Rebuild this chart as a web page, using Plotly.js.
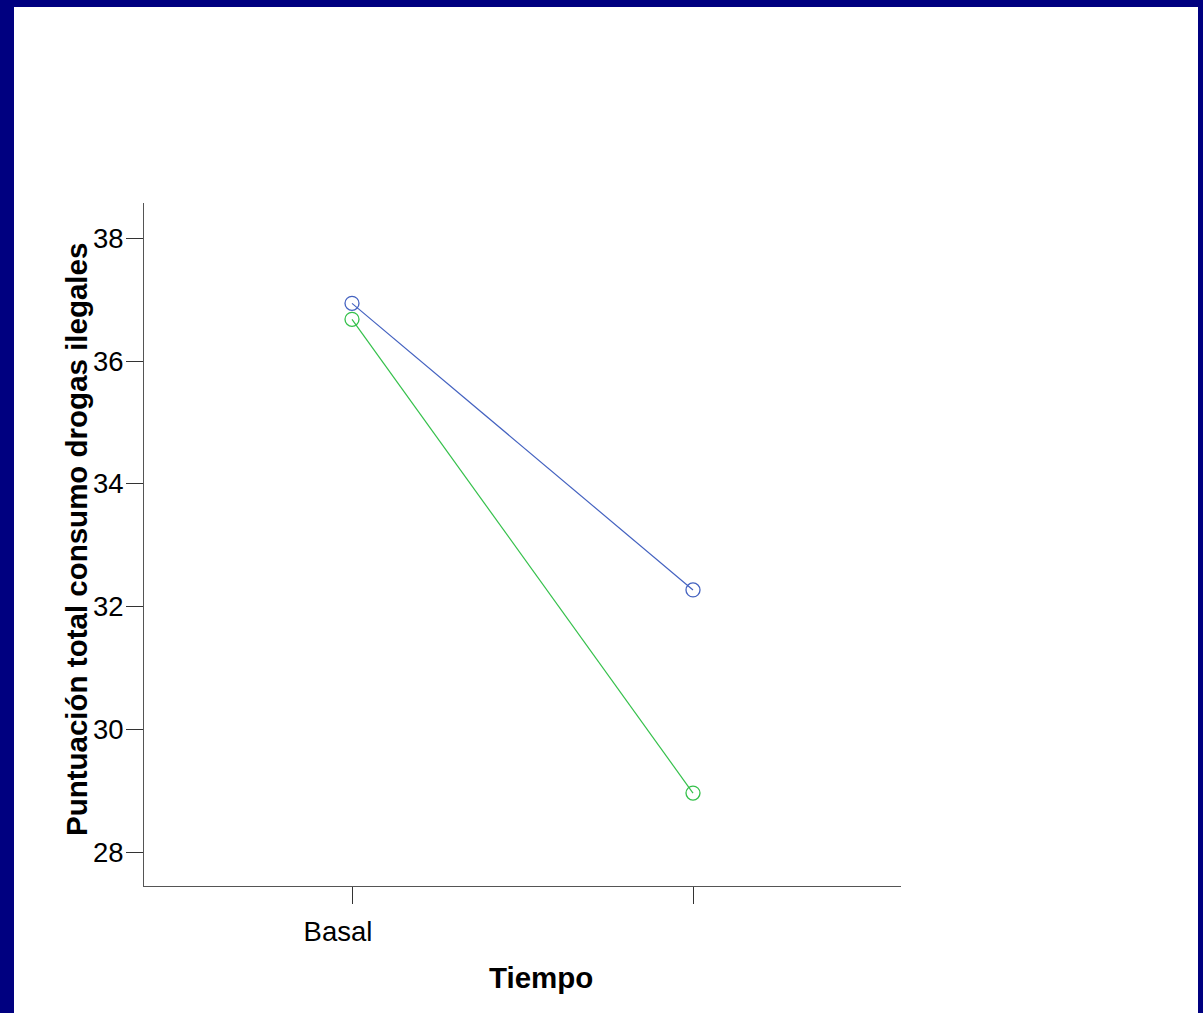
<!DOCTYPE html>
<html>
<head>
<meta charset="utf-8">
<script src="https://cdn.plot.ly/plotly-3.0.1.min.js"></script>
<style>
  html, body { margin: 0; padding: 0; background: #000080; width: 1203px; height: 1013px; overflow: hidden; }
  #chart { position: absolute; left: 14px; top: 7px; width: 1184px; height: 1006px; background: #ffffff; }
</style>
</head>
<body>
<div id="chart"></div>
<script>
// Data
const categories = ["Basal", "Seguimiento"];
const tickLabels = ["Basal", ""];
const serieAzul = [36.94, 32.27];
const serieVerde = [36.68, 28.96];
const yTickVals = [28, 30, 32, 34, 36, 38];
const xTitle = "Tiempo";
const yTitle = "Puntuación total consumo drogas ilegales";

const font = "Liberation Sans, Arial, Helvetica, sans-serif";

const traces = [
  {
    x: categories, y: serieAzul, type: "scatter", mode: "lines+markers",
    name: "Grupo 1", showlegend: false,
    line: { color: "#4462c0", width: 1.2 },
    marker: { symbol: "circle-open", size: 14, color: "#4462c0", line: { width: 1.3 } }
  },
  {
    x: categories, y: serieVerde, type: "scatter", mode: "lines+markers",
    name: "Grupo 2", showlegend: false,
    line: { color: "#34c04a", width: 1.2 },
    marker: { symbol: "circle-open", size: 14, color: "#34c04a", line: { width: 1.3 } }
  }
];

const layout = {
  width: 1184, height: 1006,
  paper_bgcolor: "#ffffff", plot_bgcolor: "#ffffff",
  margin: { l: 130, r: 297, t: 196, b: 127, pad: 0 },
  font: { family: font, color: "#000000" },
  showlegend: false,
  xaxis: {
    type: "category",
    categoryorder: "array", categoryarray: categories,
    range: [-0.61, 1.61],
    tickmode: "array", tickvals: categories, ticktext: tickLabels,
    ticks: "outside", ticklen: 17, tickwidth: 1, tickcolor: "#333333",
    ticklabelstandoff: 4, ticklabelshift: -14,
    showline: true, linecolor: "#555555", linewidth: 1,
    showgrid: false, zeroline: false,
    tickfont: { family: font, size: 27.5, color: "#000000" }
  },
  yaxis: {
    range: [27.446, 38.575],
    tickmode: "array", tickvals: yTickVals,
    ticks: "outside", ticklen: 17, tickwidth: 1, tickcolor: "#333333",
    ticklabelstandoff: -3,
    showline: true, linecolor: "#555555", linewidth: 1,
    showgrid: false, zeroline: false,
    tickfont: { family: font, size: 27.5, color: "#000000" }
  },
  annotations: [
    {
      text: "<b>" + xTitle + "</b>", xref: "paper", yref: "paper",
      x: (541 - 144) / 757, y: (886 - 977) / 683,
      xanchor: "center", yanchor: "middle", showarrow: false,
      font: { family: font, size: 29.5, color: "#000000" }
    },
    {
      text: "<b>" + yTitle + "</b>", xref: "paper", yref: "paper",
      x: (76 - 144) / 757, y: (886 - 540) / 683,
      xanchor: "center", yanchor: "middle", showarrow: false, textangle: -90,
      font: { family: font, size: 29.5, color: "#000000" }
    }
  ]
};

Plotly.newPlot("chart", traces, layout, { displayModeBar: false, staticPlot: true });
</script>
</body>
</html>
